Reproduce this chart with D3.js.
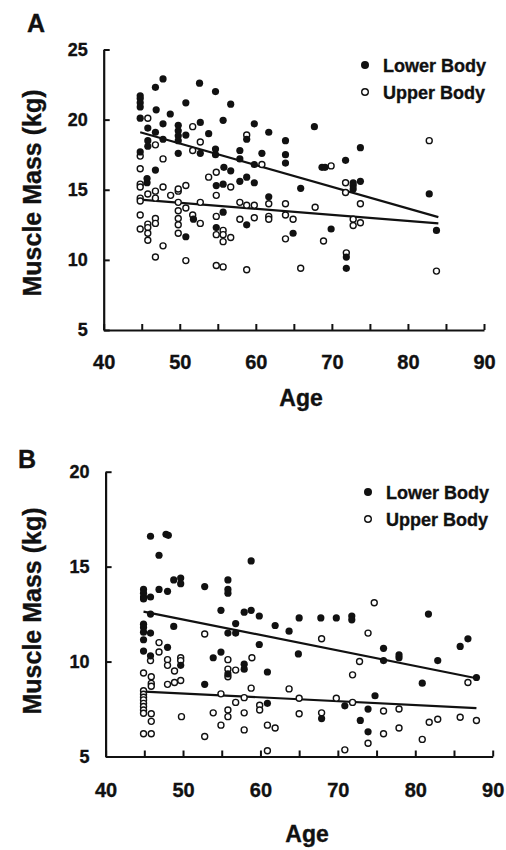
<!DOCTYPE html>
<html>
<head>
<meta charset="utf-8">
<script src="https://cdn.jsdelivr.net/npm/d3@7"></script>
<style>
  html, body { margin: 0; padding: 0; background: #fff; }
  svg { display: block; }
  text { font-family: "Liberation Sans", Arial, Helvetica, sans-serif; font-weight: bold; fill: #111; stroke: #111; stroke-width: 0.35px; }
</style>
</head>
<body>
<svg id="chart" width="506" height="850"></svg>
<script>
// ---- Axis ticks and labels ----
const ageTicks = [40, 45, 50, 55, 60, 65, 70, 75, 80, 85, 90];
const ageLabels = [40, 50, 60, 70, 80, 90];
const massTicksA = [5, 10, 15, 20, 25];
const massTicksB = [5, 10, 15, 20];
const seriesNames = ["Lower Body", "Upper Body"];

// ---- Panel A: [age, muscle mass kg] ----
const lowerBodyA = [
  [44.8,21.7],[44.8,21.5],[44.8,21.2],[44.8,20.9],[44.8,20.1],
  [46.8,22.3],[47.8,22.9],[46.9,20.7],[48.75,20.4],[50.8,21.2],[52.6,22.6],[54.7,22.0],
  [56.7,21.1],[55.7,19.95],[59.8,19.7],[61.7,19.1],[63.9,18.5],
  [45.8,19.4],[46.8,19.1],[47.8,19.7],[49.8,19.6],[49.8,19.2],[49.8,18.85],[49.8,18.5],
  [50.8,18.9],[52.7,19.8],[53.8,19.0],
  [45.8,18.5],[45.8,18.1],[44.8,17.7],[47.8,18.6],[49.8,17.6],[52.7,17.6],[54.7,17.9],
  [54.7,17.5],[57.9,17.8],[57.9,17.2],[58.8,18.6],[60.8,17.6],[63.9,17.5],[63.9,16.9],
  [59.8,16.8],[46.8,16.4],[55.8,16.6],[56.7,16.35],[45.7,15.8],[45.7,15.5],[54.8,15.3],
  [55.7,15.4],[57.9,15.6],[58.8,15.9],[59.8,15.5],[61.7,14.5],
  [51.8,12.9],[55.7,13.4],[54.8,12.3],[58.8,12.5],[50.8,11.65],
  [67.7,19.5],[68.7,16.6],[69.1,16.6],[71.8,17.1],[73.75,18.0],[73.75,15.6],[72.8,15.5],
  [72.8,15.3],[72.8,15.05],[65.9,15.1],[64.9,11.9],[69.9,12.2],[71.9,10.2],[71.9,9.4],
  [82.8,14.7],[83.75,12.1]
];
const upperBodyA = [
  [45.8,20.1],[51.7,19.5],[52.7,18.4],[44.8,17.4],[46.8,18.2],[47.8,17.2],[51.7,17.8],
  [58.8,18.9],[60.8,16.8],[44.8,16.5],[54.8,16.25],[53.8,15.9],[44.8,15.4],[44.8,15.2],
  [47.8,15.2],[46.8,14.9],[45.8,14.7],[48.8,14.6],[49.8,14.9],[49.8,15.05],[50.8,15.3],
  [56.7,15.2],[54.8,14.6],[44.8,14.4],[44.8,14.2],[46.8,14.4],
  [49.8,14.1],[52.7,14.1],[57.9,14.1],[58.8,13.9],[59.8,13.9],[61.7,14.0],[63.9,14.0],
  [44.8,13.2],[46.8,12.95],[46.8,12.6],[49.8,13.5],[49.8,12.95],[49.8,12.5],[50.8,13.7],
  [51.7,13.2],[52.7,12.6],[54.8,13.1],[55.7,12.1],[55.7,11.8],[54.8,11.8],[56.7,11.6],
  [55.7,11.3],[57.9,12.9],[59.8,13.0],[61.7,13.1],[61.7,12.9],[63.9,13.2],[63.9,11.5],
  [44.8,12.2],[45.8,12.55],[45.8,12.3],[45.8,11.9],[45.8,11.4],[47.8,11.0],[46.8,10.2],
  [49.8,11.9],[50.8,9.95],[54.8,9.6],[55.7,9.5],[58.8,9.3],
  [69.9,16.7],[71.8,15.5],[71.8,14.8],[67.8,13.75],[73.75,14.0],[72.8,12.9],[72.8,12.45],
  [73.75,12.65],[64.9,12.9],[68.9,11.35],[71.9,10.5],[65.9,9.4],[82.8,18.5],[83.75,9.2]
];
const fitLowerA = [[44.8, 19.1], [84.0, 13.05]];
const fitUpperA = [[44.8, 14.3], [84.0, 12.6]];

// ---- Panel B: [age, muscle mass kg] ----
const lowerBodyB = [
  [45.8,16.6],[47.8,16.7],[48.1,16.65],[46.9,15.6],[58.8,15.3],
  [44.9,13.8],[44.9,13.6],[44.9,13.4],[44.9,13.3],[45.8,13.4],[46.9,13.8],[48.0,13.7],
  [48.8,14.3],[49.7,14.4],[49.7,14.1],[52.8,13.95],[55.8,14.3],[55.8,13.8],[55.8,13.6],
  [54.9,12.7],[57.9,12.6],[58.8,12.7],[59.85,12.4],[61.9,11.9],[63.7,11.6],[45.8,12.5],
  [44.9,11.97],[44.9,11.8],[44.9,11.55],[45.8,11.5],[48.8,11.85],[56.8,12.0],[55.8,11.5],
  [56.8,11.5],[44.9,11.15],[48.0,10.75],[44.9,10.55],[59.85,10.9],[45.8,10.3],[53.9,10.2],
  [54.9,10.5],[57.9,9.86],[49.7,9.8],[55.8,9.35],[57.9,9.6],[60.9,9.45],[52.8,8.8],[60.9,7.8],
  [65.0,12.3],[67.8,12.3],[69.8,12.3],[71.8,12.4],[71.8,12.2],[81.7,12.5],[85.8,10.8],
  [86.8,11.2],[82.9,10.05],[75.9,10.7],[75.9,10.05],[77.9,10.35],[77.9,10.2],[64.9,10.4],
  [87.9,9.16],[80.9,8.86],[74.8,8.2],[70.9,7.67],[73.9,7.5],[67.9,7.0],[72.9,6.9],[73.9,6.3]
];
const upperBodyB = [
  [52.8,11.45],[46.9,11.0],[46.9,10.5],[45.8,10.05],[55.8,10.1],[58.9,10.2],[48.0,10.1],
  [49.7,10.2],[49.7,10.05],
  [48.0,9.8],[48.9,9.5],[44.9,9.4],[45.9,9.2],[45.9,8.85],[45.9,8.7],[48.0,8.8],[48.9,8.9],
  [49.7,9.0],
  [44.9,8.46],[44.9,8.28],[44.9,8.12],[44.9,7.98],[44.9,7.8],[44.9,7.63],[44.9,7.45],
  [44.9,7.28],[45.9,7.25],[45.9,6.85],[44.9,6.2],[45.9,6.2],[49.8,7.1],[52.8,6.05],
  [55.8,9.6],[55.8,9.2],[56.8,9.55],[54.9,8.3],[56.8,7.85],[57.9,8.1],[58.8,8.6],[53.9,7.3],
  [55.8,7.45],[55.8,7.1],[54.9,6.65],[57.9,7.3],[57.9,6.4],[59.9,7.7],[59.9,7.45],[60.9,6.65],
  [61.9,6.5],[60.9,5.3],[63.7,8.56],
  [74.7,13.1],[73.9,11.5],[67.9,11.2],[72.8,10.0],[71.9,9.3],[86.8,8.9],[65.0,8.07],
  [69.8,8.07],[71.9,7.85],[75.9,7.4],[77.9,7.5],[65.0,7.25],[67.9,7.3],[75.9,6.2],[77.9,6.5],
  [81.8,6.8],[82.9,6.96],[85.8,7.07],[87.9,6.9],[80.9,5.9],[73.9,5.7],[70.9,5.35]
];
const fitLowerB = [[44.9, 12.63], [87.9, 9.12]];
const fitUpperB = [[45.0, 8.42], [87.9, 7.55]];

const svg = d3.select("#chart");
const ink = "#111";

function drawPanel(p) {
  const x = d3.scaleLinear().domain([40, 90]).range(p.xRange);
  const y = d3.scaleLinear().domain([p.yTicks[0], p.yTicks[p.yTicks.length - 1]]).range(p.yRange);
  const g = svg.append("g");

  // x axis: ticks every 5 years pointing inward, labels every 10
  const xAxis = d3.axisBottom(x)
    .tickValues(ageTicks)
    .tickSizeInner(-6).tickSizeOuter(0)
    .tickPadding(p.xPad)
    .tickFormat(d => ageLabels.includes(d) ? d : "");
  const gx = g.append("g")
    .attr("transform", `translate(0,${p.yRange[0]})`)
    .call(xAxis)
    .attr("font-size", 20);

  // y axis
  const yAxis = d3.axisLeft(y)
    .tickValues(p.yTicks)
    .tickSizeInner(-6).tickSizeOuter(0)
    .tickPadding(16);
  const gy = g.append("g")
    .attr("transform", `translate(${p.xRange[0]},0)`)
    .call(yAxis)
    .attr("font-size", 18);

  [gx, gy].forEach(a => {
    a.select(".domain").attr("stroke", ink).attr("stroke-width", 2.2);
    a.selectAll(".tick line").attr("stroke", ink).attr("stroke-width", 2);
  });

  // fitted regression lines
  const line = d3.line().x(d => x(d[0])).y(d => y(d[1]));
  [p.fitLower, p.fitUpper].forEach(f => {
    g.append("path").attr("d", line(f))
      .attr("fill", "none").attr("stroke", ink).attr("stroke-width", 2.2);
  });

  // upper body: open circles
  g.append("g").selectAll("circle").data(p.upper).join("circle")
    .attr("cx", d => x(d[0])).attr("cy", d => y(d[1])).attr("r", 3.0)
    .attr("fill", "#fff").attr("stroke", ink).attr("stroke-width", 1.4);

  // lower body: filled circles
  g.append("g").selectAll("circle").data(p.lower).join("circle")
    .attr("cx", d => x(d[0])).attr("cy", d => y(d[1])).attr("r", 3.6)
    .attr("fill", ink);

  // axis titles
  g.append("text")
    .attr("transform", `translate(${p.yTitle[0]},${p.yTitle[1]}) rotate(-90)`)
    .attr("text-anchor", "middle").attr("font-size", 25)
    .text("Muscle Mass (kg)");
  g.append("text")
    .attr("x", p.xTitle[0]).attr("y", p.xTitle[1])
    .attr("text-anchor", "middle").attr("font-size", 23)
    .text("Age");

  // panel letter
  g.append("text")
    .attr("x", p.letterPos[0]).attr("y", p.letterPos[1])
    .attr("font-size", 25)
    .text(p.letter);

  // legend
  const lg = g.append("g").attr("transform", `translate(${p.legend[0]},${p.legend[1]})`);
  seriesNames.forEach((name, i) => {
    const row = lg.append("g").attr("transform", `translate(0,${i * 27})`);
    if (i === 0) {
      row.append("circle").attr("r", 4).attr("fill", ink);
    } else {
      row.append("circle").attr("r", 3.3).attr("fill", "#fff")
        .attr("stroke", ink).attr("stroke-width", 1.4);
    }
    row.append("text").attr("x", 18).attr("y", 6.5).attr("font-size", 18).text(name);
  });
}

drawPanel({
  letter: "A", letterPos: [27, 32],
  xRange: [103.7, 484], yRange: [330, 49.5], yTicks: massTicksA, xPad: 25,
  lower: lowerBodyA, upper: upperBodyA, fitLower: fitLowerA, fitUpper: fitUpperA,
  yTitle: [41, 193], xTitle: [301, 406], legend: [365, 65]
});

drawPanel({
  letter: "B", letterPos: [18, 468],
  xRange: [105.6, 492.7], yRange: [756.5, 471.7], yTicks: massTicksB, xPad: 26,
  lower: lowerBodyB, upper: upperBodyB, fitLower: fitLowerB, fitUpper: fitUpperB,
  yTitle: [41, 611], xTitle: [307, 842], legend: [368, 492]
});
</script>
</body>
</html>
